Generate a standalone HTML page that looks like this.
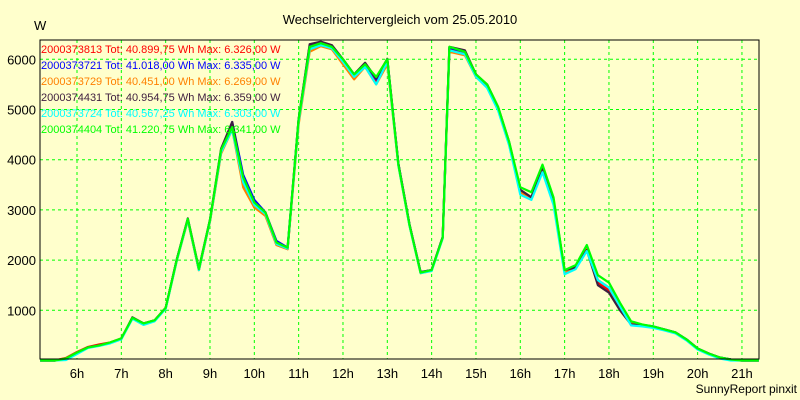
<!DOCTYPE html>
<html><head><meta charset="utf-8"><style>
body{margin:0;background:#FFFFCC;}
svg{display:block;font-family:"Liberation Sans",Arial,sans-serif;}
</style></head><body>
<svg id="chart" width="800" height="400">
<rect width="800" height="400" fill="#FFFFCC"/>
<text x="400" y="24" text-anchor="middle" font-size="13">Wechselrichtervergleich vom 25.05.2010</text>
<text x="34" y="30" font-size="13">W</text>
<text x="797" y="393" text-anchor="end" font-size="12">SunnyReport pinxit</text>
<g id="grid"></g><g id="series"></g><g id="axes"></g><g id="legend"></g>
</svg>
<script>
const times=[5.17,5.5,5.75,6,6.25,6.5,6.75,7,7.25,7.5,7.75,8,8.25,8.5,8.75,9,9.25,9.5,9.75,10,10.25,10.5,10.75,11,11.25,11.5,11.75,12,12.25,12.5,12.75,13,13.25,13.5,13.75,14,14.25,14.4,14.75,15,15.25,15.5,15.75,16,16.25,16.5,16.75,17,17.25,17.5,17.75,18,18.25,18.5,18.75,19,19.25,19.5,19.75,20,20.25,20.5,20.75,21,21.38];
const green=[0,0,40,160,260,300,360,440,850,740,800,1050,2000,2820,1820,2800,4200,4650,3650,3150,2950,2350,2250,4800,6250,6320,6250,6000,5700,5900,5650,6000,3900,2700,1750,1800,2450,6250,6150,5700,5500,5050,4350,3450,3350,3900,3250,1800,1900,2300,1700,1550,1150,780,720,680,620,560,420,240,140,60,20,0,0];
const red=[0,0,50,170,270,320,360,440,850,740,800,1050,2000,2800,1800,2780,4150,4700,3500,3050,2900,2300,2220,4750,6200,6300,6250,5950,5650,5850,5550,5950,3900,2700,1750,1800,2450,6200,6100,5650,5450,5000,4300,3350,3250,3800,3150,1750,1850,2200,1550,1400,1050,730,700,670,610,550,410,230,130,50,10,0,0];
const blue=[0,0,30,150,260,300,350,430,840,730,790,1040,2000,2810,1810,2790,4180,4750,3700,3200,2950,2380,2250,4800,6280,6330,6270,6000,5700,5920,5600,6000,3920,2710,1760,1800,2460,6230,6150,5700,5480,5020,4320,3380,3250,3850,3200,1780,1880,2250,1600,1450,1100,740,710,680,620,560,420,240,140,60,20,0,0];
const orange=[0,0,40,160,260,300,350,430,840,730,790,1040,1980,2790,1800,2770,4120,4600,3450,3050,2880,2300,2220,4700,6150,6260,6200,5900,5600,5850,5500,5900,3880,2690,1740,1790,2440,6150,6080,5650,5450,5000,4300,3350,3250,3800,3150,1770,1850,2220,1600,1450,1080,740,700,670,610,550,410,230,130,50,10,0,0];
const dark=[0,0,30,150,260,300,350,430,860,740,800,1050,2010,2830,1830,2810,4220,4750,3600,3150,2950,2350,2240,4800,6300,6350,6280,6000,5700,5930,5620,6010,3920,2710,1760,1800,2460,6250,6180,5700,5500,5050,4350,3400,3250,3850,3200,1800,1850,2200,1500,1350,1000,720,700,670,620,560,420,240,140,60,20,0,0];
const cyan=[0,0,10,130,250,290,340,420,830,710,780,1030,1980,2800,1800,2780,4150,4600,3550,3100,2920,2320,2230,4750,6200,6280,6220,5950,5650,5850,5500,5950,3880,2680,1740,1780,2430,6180,6100,5650,5430,4980,4280,3300,3200,3750,3100,1720,1820,2180,1600,1450,1080,700,680,650,600,540,400,220,120,40,0,0,0];
const names=["2000373813 Tot: 40.899,75 Wh Max: 6.326,00 W","2000373721 Tot: 41.018,00 Wh Max: 6.335,00 W","2000373729 Tot: 40.451,00 Wh Max: 6.269,00 W","2000374431 Tot: 40.954,75 Wh Max: 6.359,00 W","2000373724 Tot: 40.567,25 Wh Max: 6.303,00 W","2000374404 Tot: 41.220,75 Wh Max: 6.341,00 W"];
const yTicks=[1000,2000,3000,4000,5000,6000];
const xTicks=[6,7,8,9,10,11,12,13,14,15,16,17,18,19,20,21];
const allSeries=[red,blue,orange,dark,cyan,green];
const colors=["#FF0000","#0000FF","#FF8000","#402040","#00FFFF","#00FF00"];
const seriesNames=["series-red","series-blue","series-orange","series-dark","series-cyan","series-green"];
const NS="http://www.w3.org/2000/svg";
const L=40,R=759,T=40,B=359;
const X=t=>77+(t-6)*44.33;
const Y=v=>360.5-v*0.0502;
function mk(tag,attrs,parent){const e=document.createElementNS(NS,tag);for(const k in attrs)e.setAttribute(k,attrs[k]);parent.appendChild(e);return e;}
const grid=document.getElementById('grid'),axes=document.getElementById('axes'),ser=document.getElementById('series'),leg=document.getElementById('legend');
yTicks.forEach(v=>{
  const l=mk('line',{x1:L,x2:R,y1:Y(v),y2:Y(v),stroke:'#00FF00','stroke-dasharray':'3,3'},grid);
  
  
  const t=mk('text',{x:L-4,y:Y(v)+5,'text-anchor':'end','font-size':'13'},axes);
  t.textContent=v;
  
  
});
xTicks.forEach(h=>{
  const l=mk('line',{x1:X(h),x2:X(h),y1:T,y2:B,stroke:'#00FF00','stroke-dasharray':'3,3'},grid);
  
  
  const t=mk('text',{x:X(h),y:378,'text-anchor':'middle','font-size':'13'},axes);
  t.textContent=h+'h';
  
  
});
const frame=mk('rect',{x:L,y:T,width:R-L,height:B-T,fill:'none',stroke:'#000','stroke-width':1},axes);


allSeries.forEach((vals,i)=>{
  const pts=vals.map((v,j)=>X(times[j]).toFixed(1)+','+Y(v).toFixed(1)).join(' ');
  const p=mk('polyline',{points:pts,fill:'none',stroke:colors[i],'stroke-width':2.2,'stroke-linejoin':'round'},ser);
  
  
  const t=mk('text',{x:41,y:53+i*16,'font-size':'11',fill:colors[i]},leg);
  t.textContent=names[i];
  
  
});
</script>
</body></html>
